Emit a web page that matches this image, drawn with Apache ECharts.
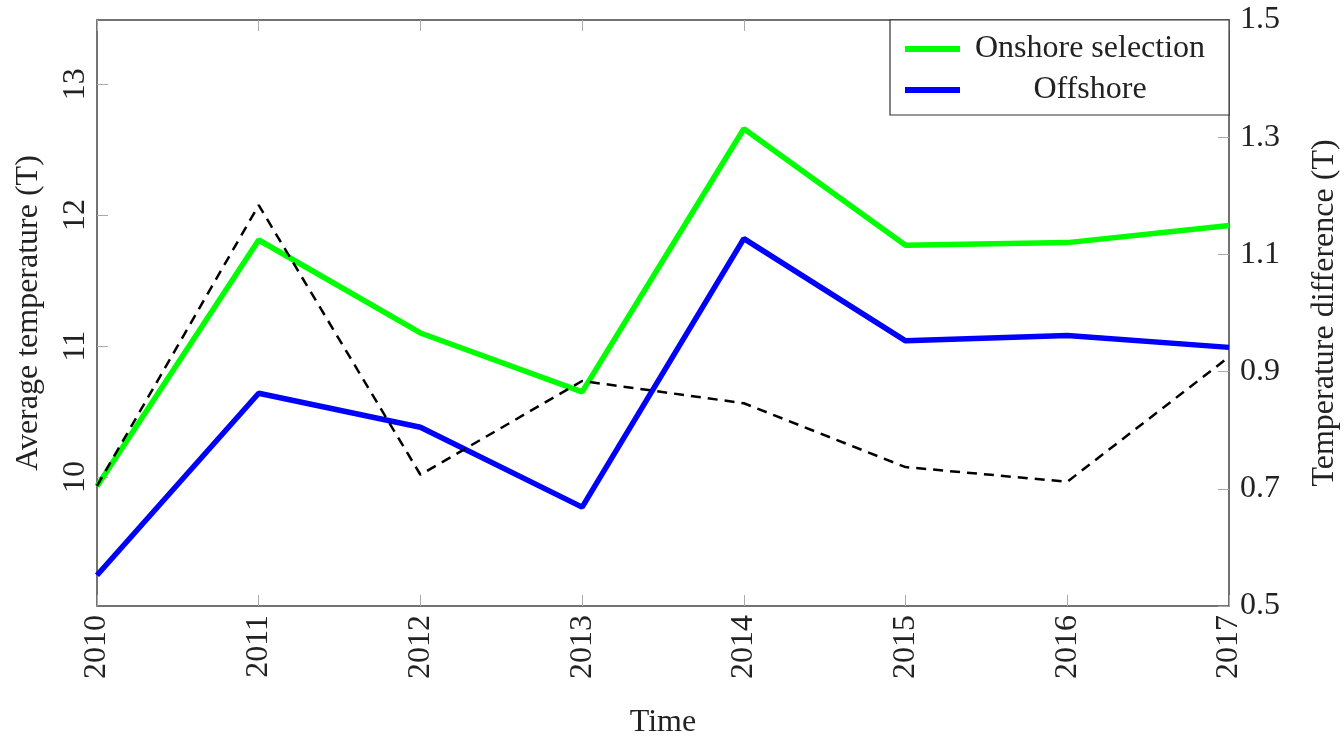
<!DOCTYPE html>
<html>
<head>
<meta charset="utf-8">
<title>Average temperature and temperature difference</title>
<script src="https://cdn.jsdelivr.net/npm/echarts@6/dist/echarts.min.js"></script>
<style>
  html, body { margin: 0; padding: 0; background: #fff; }
  #chart { width: 1344px; height: 737px; }
</style>
</head>
<body>
<div id="chart"></div>
<script>
// Years on the horizontal axis
const years = ['2010', '2011', '2012', '2013', '2014', '2015', '2016', '2017'];

// Average temperature (left axis)
const onshore = [9.93, 11.81, 11.10, 10.65, 12.66, 11.77, 11.79, 11.92];
const offshore = [9.25, 10.64, 10.38, 9.77, 11.82, 11.04, 11.08, 10.99];

// Temperature difference (right axis)
const difference = [0.705, 1.184, 0.724, 0.884, 0.846, 0.737, 0.712, 0.925];

// Tick labels
const leftTicks = [10, 11, 12, 13];
const rightTicks = [0.5, 0.7, 0.9, 1.1, 1.3, 1.5];

const FONT = 'Liberation Serif';
const FS = 32;
const TEXT = '#222';
const TICK = '#aaa';

const chart = echarts.init(document.getElementById('chart'));

chart.setOption({
  animation: false,
  backgroundColor: '#fff',
  textStyle: { fontFamily: FONT, color: TEXT },
  grid: {
    left: 97, right: 115, top: 20, bottom: 131,
    containLabel: false,
    outerBoundsMode: 'none',
    show: true, borderColor: '#444', borderWidth: 1.5,
    backgroundColor: 'transparent'
  },
  legend: {
    data: ['Onshore selection', 'Offshore'],
    orient: 'vertical',
    left: 890, top: 20,
    padding: [13, 24, 9, 15],
    itemGap: 9,
    itemWidth: 55,
    itemHeight: 6,
    itemStyle: { borderWidth: 0 },
    icon: 'rect',
    backgroundColor: '#fff',
    borderColor: '#333',
    borderWidth: 1.2,
    formatter: '{c|{name}}',
    textStyle: {
      fontFamily: FONT, fontSize: FS, color: TEXT,
      rich: { c: { width: 250, align: 'center', fontFamily: FONT, fontSize: FS, color: TEXT } }
    }
  },
  xAxis: [
    {
      type: 'category',
      data: years,
      boundaryGap: false,
      position: 'bottom',
      name: 'Time',
      nameLocation: 'middle',
      nameGap: 101,
      nameTextStyle: { fontFamily: FONT, fontSize: FS, color: TEXT },
      axisLine: { show: false },
      axisTick: { show: true, inside: true, length: 11, alignWithLabel: true, lineStyle: { color: TICK } },
      axisLabel: { rotate: 90, margin: 9, fontFamily: FONT, fontSize: FS, color: TEXT },
      splitLine: { show: false }
    },
    {
      type: 'category',
      data: years,
      boundaryGap: false,
      position: 'top',
      axisLine: { show: false },
      axisTick: { show: true, inside: true, length: 11, lineStyle: { color: TICK } },
      axisLabel: { show: false },
      splitLine: { show: false }
    }
  ],
  yAxis: [
    {
      type: 'value',
      position: 'left',
      min: 9.015,
      max: 13.49,
      name: 'Average temperature (T)',
      nameLocation: 'middle',
      nameRotate: 90,
      nameGap: 52,
      nameTextStyle: { fontFamily: FONT, fontSize: FS, color: TEXT },
      axisLine: { show: false },
      axisTick: { show: true, inside: true, length: 11, customValues: leftTicks, lineStyle: { color: TICK } },
      axisLabel: { rotate: 90, margin: 5, customValues: leftTicks, fontFamily: FONT, fontSize: FS, color: TEXT },
      splitLine: { show: false }
    },
    {
      type: 'value',
      position: 'right',
      min: 0.5,
      max: 1.5,
      name: 'Temperature difference (T)',
      nameLocation: 'middle',
      nameRotate: 90,
      nameGap: 80,
      nameTextStyle: { fontFamily: FONT, fontSize: FS, color: TEXT },
      axisLine: { show: false },
      axisTick: { show: true, inside: true, length: 11, customValues: rightTicks, lineStyle: { color: TICK } },
      axisLabel: {
        margin: 11, customValues: rightTicks, fontFamily: FONT, fontSize: FS, color: TEXT,
        formatter: v => v.toFixed(1)
      },
      splitLine: { show: false }
    }
  ],
  series: [
    {
      name: 'Onshore selection',
      type: 'line',
      xAxisIndex: 0, yAxisIndex: 0,
      data: onshore,
      showSymbol: false,
      color: '#00ff00',
      lineStyle: { width: 5.5, color: '#00ff00' },
      itemStyle: { color: '#00ff00' }
    },
    {
      name: 'Offshore',
      type: 'line',
      xAxisIndex: 0, yAxisIndex: 0,
      data: offshore,
      showSymbol: false,
      color: '#0000ff',
      lineStyle: { width: 5.5, color: '#0000ff' },
      itemStyle: { color: '#0000ff' }
    },
    {
      name: 'Temperature difference',
      type: 'line',
      xAxisIndex: 0, yAxisIndex: 1,
      data: difference,
      showSymbol: false,
      color: '#000',
      lineStyle: { width: 2.5, color: '#000', type: [10, 7] },
      z: 3
    }
  ]
});
</script>
</body>
</html>
